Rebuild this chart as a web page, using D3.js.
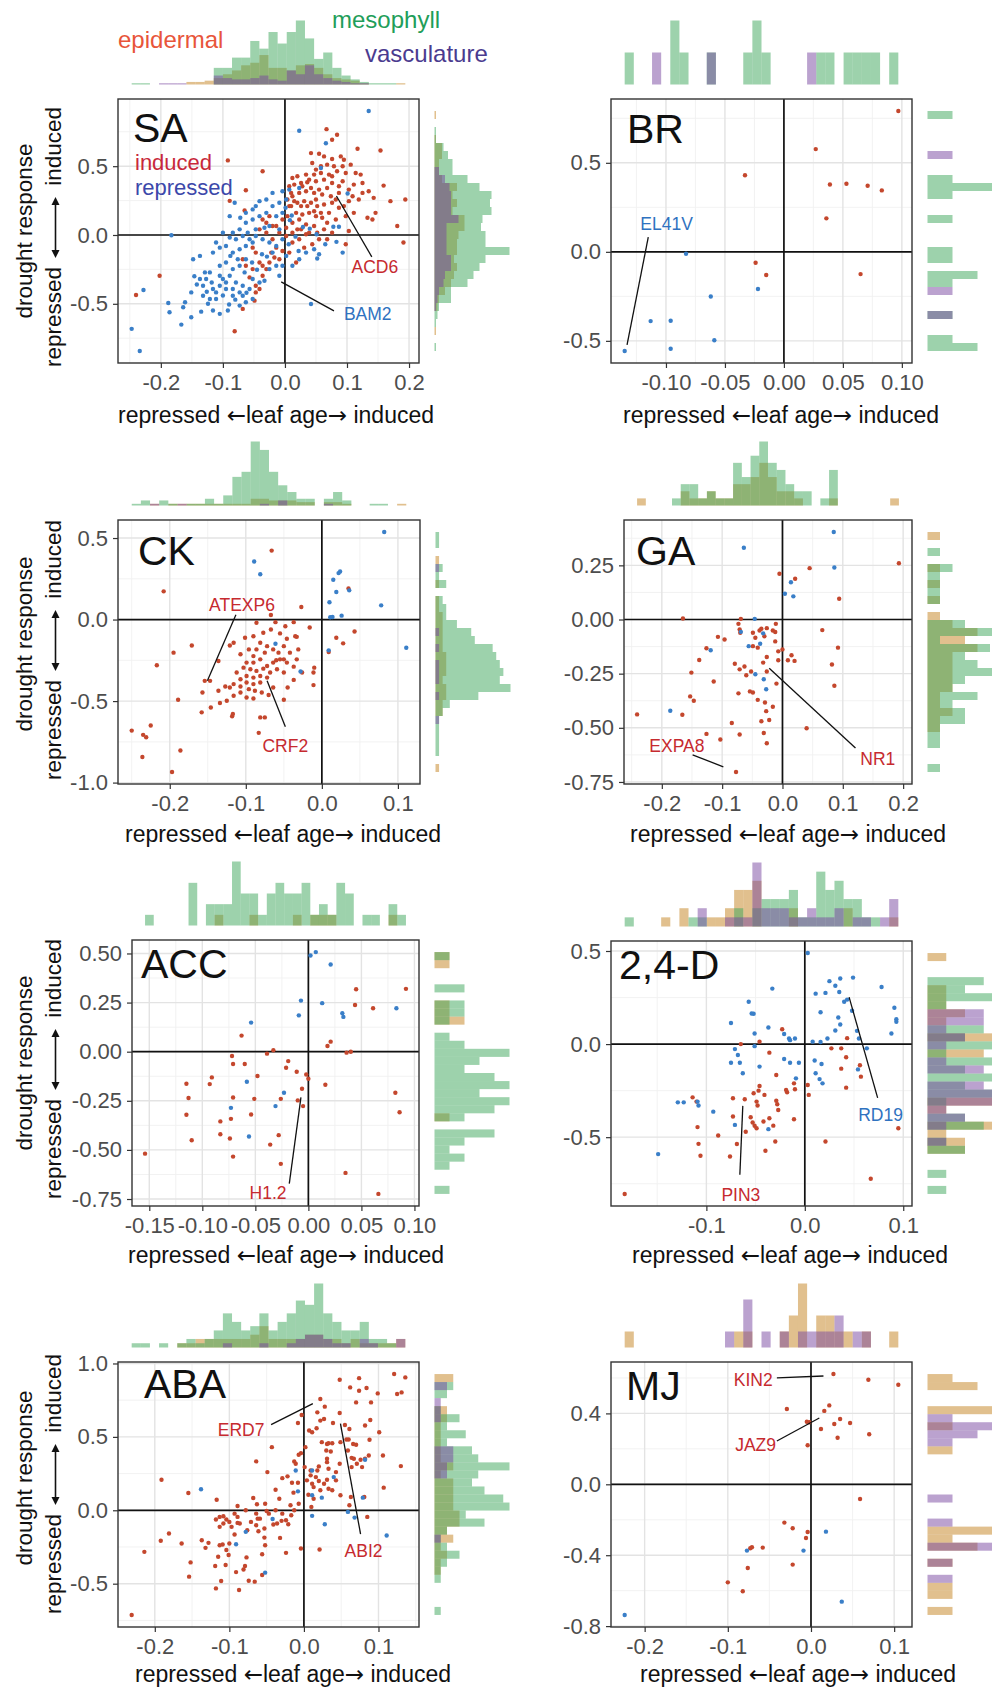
<!DOCTYPE html>
<html>
<head>
<meta charset="utf-8">
<script src="https://cdn.jsdelivr.net/npm/d3@7"></script>
<style>
  body { margin: 0; background: #fff; }
  svg text { font-family: "Liberation Sans", Arial, Helvetica, sans-serif; }
</style>
</head>
<body>
<svg id="fig" width="992" height="1688"></svg>
<script>
// ---- scatter data: [leaf age, drought response] per gene ----
const saInduced = [[-0.092,0.542],[-0.036,0.463],[-0.063,0.325],[-0.089,0.248],[-0.065,0.178],[-0.202,-0.296],[-0.240,-0.436],[-0.081,-0.699],[-0.068,-0.537],[-0.049,-0.477],[-0.047,-0.417],[-0.041,-0.393],
  [0.067,0.769],[0.084,0.728],[0.117,0.627],[0.154,0.614],[0.076,0.692],[0.042,0.595],[0.055,0.590],[0.063,0.571],[0.076,0.552],[0.090,0.571],[0.044,0.523],[0.058,0.499],[0.068,0.511],[0.079,0.499],[0.093,0.499],[0.106,0.511],[0.122,0.439],[0.114,0.451],[0.098,0.451],[0.084,0.463],[0.071,0.439],[0.058,0.451],[0.047,0.439],[0.034,0.439],[0.020,0.427],[0.012,0.414],[0.007,0.354],[0.015,0.366],[0.026,0.378],[0.036,0.383],[0.050,0.390],[0.063,0.402],[0.076,0.378],[0.087,0.354],[0.103,0.330],[0.093,0.390],[0.111,0.366],[0.135,0.318],[0.143,0.270],[0.159,0.359],[0.170,0.246],[0.194,0.258],[0.119,0.258],[0.103,0.246],[0.087,0.306],[0.074,0.282],[0.060,0.294],[0.047,0.306],[0.034,0.318],[0.023,0.306],[0.012,0.282],[0.004,0.258],[0.010,0.210],[0.020,0.234],[0.031,0.246],[0.042,0.234],[0.052,0.210],[0.063,0.222],[0.076,0.234],[0.087,0.198],[0.018,0.161],[0.028,0.149],[0.039,0.161],[0.050,0.137],[0.060,0.125],[0.023,0.113],[0.012,0.089],[0.034,0.077],[0.047,0.065],[0.004,0.137],[0.002,0.053],[0.020,0.041],[0.133,0.125],[0.141,0.113],[0.181,0.065],[0.191,-0.055],[0.098,-0.067],[0.076,0.017],[0.063,0.041],[0.055,-0.031],[0.044,-0.067],[0.031,-0.092],[0.023,-0.031],[0.012,-0.055],[0.007,-0.128],[0.018,-0.200],[0.034,0.005],[-0.025,0.137],[-0.036,0.113],[-0.041,0.041],[-0.030,0.017],[-0.020,-0.031],[-0.014,0.065],[-0.004,0.113],[-0.052,-0.092],[-0.047,-0.128],[-0.041,-0.200],[-0.052,-0.248],[-0.057,-0.308],[-0.047,-0.369],[-0.036,-0.296],[-0.030,-0.248],[-0.025,-0.200],[-0.017,-0.164],[-0.009,-0.176],[-0.004,-0.116],[-0.014,-0.092],[0.103,0.029],
  [0.028,0.354],[0.042,0.342],[0.055,0.330],[0.068,0.342],[0.082,0.258],[0.095,0.210],[0.109,0.282],[0.125,0.306],[0.071,0.161],[0.082,0.113],[0.068,0.089],[0.052,0.017],[0.039,0.017],[0.026,0.210],[0.015,0.246],[0.050,0.258],[0.036,0.210],[0.047,0.173],[0.058,0.161],[0.098,0.137],[0.111,0.161],[0.095,0.547],[0.050,0.475],[0.039,0.402],[0.007,0.210],[0.010,0.306],[0.076,0.427],[0.125,0.378],[0.146,0.161],[0.002,-0.007],[0.012,0.017],[0.026,0.041],[0.068,-0.031],[-0.020,0.065],[-0.030,0.089],[-0.009,0.017],[-0.063,-0.224],[-0.036,-0.224],[-0.068,-0.176],[-0.022,-0.128]];
const saRepressed = [[0.135,0.901],[0.023,0.757],[0.066,0.667],[0.058,0.487],[0.101,0.301],[0.087,0.060],[0.093,-0.128],[0.042,-0.501],[0.055,-0.140],[-0.183,-0.002],[-0.247,-0.682],[-0.234,-0.843],[-0.228,-0.400],[-0.188,-0.494],[-0.186,-0.561],[-0.167,-0.651],[-0.151,-0.598],[-0.135,-0.557],[-0.164,-0.525],[-0.151,-0.417],[-0.161,-0.489],[-0.148,-0.176],[-0.137,-0.152],[-0.129,-0.272],[-0.127,-0.320],[-0.116,-0.393],[-0.105,-0.369],[-0.095,-0.345],[-0.084,-0.393],[-0.073,-0.417],[-0.063,-0.489],[-0.052,-0.465],[-0.105,-0.573],[-0.116,-0.549],[-0.092,-0.549],[-0.073,-0.513],[-0.132,-0.441],[-0.121,-0.465],[-0.111,-0.417],[-0.100,-0.320],[-0.089,-0.296],[-0.079,-0.345],[-0.068,-0.369],[-0.057,-0.393],[-0.105,-0.224],[-0.095,-0.200],[-0.084,-0.248],[-0.073,-0.224],[-0.063,-0.176],[-0.116,-0.128],[-0.105,-0.092],[-0.095,-0.080],[-0.084,-0.128],[-0.073,-0.104],[-0.063,-0.080],[-0.052,-0.055],[-0.089,-0.019],[-0.079,-0.031],[-0.068,-0.007],[-0.057,-0.031],[-0.047,-0.007],[-0.036,-0.031],[-0.025,-0.055],[-0.014,-0.080],[-0.004,-0.031],[-0.084,0.017],[-0.073,0.041],[-0.060,0.017],[-0.047,0.041],[-0.033,0.053],[-0.025,0.065],[-0.009,0.041],[-0.063,0.089],[-0.052,0.113],[-0.041,0.137],[-0.030,0.161],[-0.020,0.210],[-0.009,0.234],[0.002,0.258],[-0.020,0.306],[-0.004,0.318],[0.007,0.330],[0.023,0.342],[-0.052,0.186],[-0.063,0.161],[-0.041,0.246],[-0.030,0.258],[-0.081,0.234],[-0.020,-0.128],[-0.014,-0.224],[-0.025,-0.248],[-0.033,-0.333],[-0.009,-0.296],[0.002,-0.152],[0.012,-0.224],[0.023,-0.176],[0.034,-0.128],[0.047,-0.104],[0.006,-0.067],[0.017,-0.012],[0.029,0.058],[0.022,-0.116],[0.051,0.005],[-0.004,-0.224],[-0.105,-0.296],[-0.121,-0.272],[-0.137,-0.320],[-0.132,-0.369],[-0.111,-0.465],[-0.095,-0.393],[-0.084,-0.441],[-0.068,-0.441],[-0.088,-0.152],[-0.076,-0.176],[-0.065,-0.272],[-0.052,-0.320],[-0.041,-0.345],[-0.029,-0.157],[-0.053,-0.200],[-0.045,-0.253],[-0.037,-0.140],[-0.126,-0.412],[-0.089,0.137],[-0.100,0.017],[-0.111,-0.055],[-0.072,0.125],[-0.047,0.210],[-0.014,0.137],[-0.004,0.161],[0.001,0.198],[0.011,0.142],[0.008,0.108],[0.040,0.046],[0.052,-0.171],[0.065,-0.067],[0.078,0.060],[0.083,-0.050],
  [-0.142,-0.360],[-0.118,-0.345],[-0.100,-0.440],[-0.080,-0.470],[-0.062,-0.420],[-0.146,-0.300],[-0.124,-0.500],[-0.090,-0.505]];

const brInduced = [[0.097,0.791],[0.027,0.577],[-0.033,0.430],[0.039,0.378],[0.053,0.382],[0.071,0.371],[0.083,0.345],[0.036,0.188],[-0.024,-0.061],[-0.015,-0.130],[0.065,-0.125]];
const brRepressed = [[-0.083,-0.011],[-0.022,-0.209],[-0.062,-0.251],[-0.113,-0.389],[-0.096,-0.387],[-0.059,-0.497],[-0.096,-0.544],[-0.135,-0.557]];

const ckInduced = [[-0.066,0.423],[-0.208,0.173],[-0.027,0.077],[-0.067,0.028],[0.035,0.191],[-0.086,-0.020],[-0.061,-0.016],[-0.048,-0.041],[-0.037,-0.016],[-0.016,-0.049],[-0.035,-0.102],[0.043,-0.073],[0.019,-0.112],[0.028,-0.146],[0.009,-0.199],[-0.171,-0.159],[-0.195,-0.203],[-0.217,-0.280],[-0.154,-0.376],[-0.147,-0.376],[-0.157,-0.447],[-0.146,-0.539],[-0.158,-0.569],[-0.189,-0.492],[-0.250,-0.681],[-0.235,-0.707],[-0.231,-0.722],[-0.225,-0.650],[-0.236,-0.843],[-0.186,-0.803],[-0.197,-0.935],[-0.083,-0.695],[-0.081,-0.600],[-0.075,-0.600],[-0.118,-0.593],[-0.117,-0.579],[-0.136,-0.437],[-0.134,-0.512],[-0.125,-0.498],[-0.116,-0.467],[-0.107,-0.447],[-0.099,-0.478],[-0.090,-0.484],[-0.079,-0.447],[-0.070,-0.463],[-0.064,-0.417],[-0.050,-0.492],[-0.045,-0.417],[-0.037,-0.370],[-0.011,-0.402],[-0.011,-0.325],[-0.010,-0.295],[-0.026,-0.325],[-0.037,-0.289],[-0.031,-0.183],[-0.033,-0.244],[-0.046,-0.264],[-0.050,-0.163],[-0.046,-0.118],[-0.055,-0.085],[-0.067,-0.061],[-0.077,-0.081],[-0.090,-0.102],[-0.101,-0.112],[-0.116,-0.142],[-0.121,-0.159],[-0.136,-0.254],[-0.081,-0.142],[-0.072,-0.163],[-0.064,-0.183],[-0.057,-0.203],[-0.090,-0.224],[-0.099,-0.264],[-0.090,-0.264],[-0.081,-0.244],[-0.072,-0.285],[-0.064,-0.264],[-0.055,-0.244],[-0.094,-0.305],[-0.086,-0.315],[-0.077,-0.301],[-0.068,-0.325],[-0.059,-0.305],[-0.050,-0.325],[-0.099,-0.346],[-0.090,-0.356],[-0.081,-0.346],[-0.072,-0.356],[-0.107,-0.366],[-0.099,-0.386],[-0.090,-0.396],[-0.081,-0.386],[-0.116,-0.396],[-0.107,-0.411],[-0.096,-0.427],[-0.088,-0.437],[-0.112,-0.325],[-0.103,-0.295],[-0.086,-0.183],[-0.096,-0.183],[-0.107,-0.213],[-0.075,-0.203],[-0.121,-0.417],[-0.127,-0.411],[-0.060,-0.250],[-0.050,-0.244],[-0.042,-0.203],[-0.033,-0.106]];
const ckRepressed = [[0.082,0.537],[-0.089,0.356],[-0.081,0.278],[0.024,0.295],[0.022,0.285],[0.015,0.244],[0.019,0.169],[0.036,0.179],[0.010,0.106],[0.078,0.087],[0.011,0.014],[0.014,0.016],[0.026,0.024],[-0.061,-0.148],[0.009,-0.189],[-0.028,-0.319],[0.111,-0.173]];

const gaInduced = [[0.193,0.260],[0.045,0.237],[0.021,0.188],[-0.005,0.211],[0.094,0.096],[-0.165,0.005],[0.066,-0.049],[0.092,-0.130],[0.082,-0.208],[0.086,-0.306],[0.040,-0.502],[-0.073,-0.020],[-0.069,0.003],[-0.071,-0.046],[-0.070,-0.061],[-0.049,-0.061],[-0.038,-0.051],[-0.035,-0.043],[-0.026,-0.040],[-0.016,-0.051],[-0.012,-0.058],[-0.011,-0.020],[-0.030,-0.077],[-0.012,-0.101],[-0.007,-0.147],[0.000,-0.138],[-0.007,-0.188],[0.009,-0.188],[0.015,-0.165],[0.020,-0.191],[-0.026,-0.173],[-0.032,-0.199],[-0.026,-0.240],[-0.049,-0.123],[-0.041,-0.130],[-0.107,-0.080],[-0.096,-0.092],[-0.126,-0.133],[-0.138,-0.187],[-0.151,-0.245],[-0.114,-0.286],[-0.079,-0.204],[-0.071,-0.230],[-0.063,-0.217],[-0.060,-0.257],[-0.052,-0.240],[-0.010,-0.296],[-0.073,-0.341],[-0.054,-0.332],[-0.049,-0.337],[-0.041,-0.371],[-0.029,-0.383],[-0.016,-0.403],[-0.027,-0.423],[-0.035,-0.470],[-0.022,-0.464],[-0.031,-0.524],[-0.026,-0.571],[-0.153,-0.355],[-0.147,-0.375],[-0.166,-0.440],[-0.241,-0.438],[-0.084,-0.478],[-0.071,-0.531],[-0.126,-0.528],[-0.103,-0.554],[-0.077,-0.704],[-0.045,-0.084]];
const gaRepressed = [[0.085,0.404],[-0.064,0.331],[0.086,0.240],[0.014,0.172],[0.004,0.119],[0.018,0.107],[-0.046,0.003],[-0.069,-0.057],[-0.032,-0.064],[-0.056,-0.123],[-0.037,-0.112],[-0.119,-0.142],[-0.045,-0.253],[-0.031,-0.276],[-0.027,-0.322],[-0.186,-0.421]];

const accInduced = [[-0.154,-0.519],[-0.115,-0.163],[-0.113,-0.236],[-0.115,-0.321],[-0.110,-0.451],[-0.091,-0.131],[-0.093,-0.165],[-0.083,-0.355],[-0.083,-0.420],[-0.072,-0.022],[-0.071,-0.063],[-0.071,-0.233],[-0.073,-0.342],[-0.074,-0.442],[-0.071,-0.534],[-0.063,0.082],[-0.060,-0.063],[-0.051,-0.240],[-0.054,-0.320],[-0.048,-0.124],[-0.039,-0.010],[-0.033,0.007],[-0.019,-0.048],[-0.021,-0.082],[-0.026,-0.240],[-0.028,-0.425],[-0.036,-0.473],[-0.026,-0.571],[-0.011,-0.102],[-0.010,-0.248],[-0.005,-0.277],[-0.006,-0.189],[-0.002,-0.116],[0.000,-0.138],[0.044,0.238],[0.045,0.318],[0.061,0.221],[0.092,0.320],[0.018,0.029],[0.021,0.051],[0.016,-0.168],[0.036,-0.005],[0.040,0.000],[0.035,-0.617],[0.066,-0.724],[0.082,-0.209],[0.086,-0.308]];
const accRepressed = [[0.002,0.490],[0.007,0.507],[0.021,0.444],[-0.007,0.260],[-0.009,0.185],[0.013,0.247],[0.032,0.196],[0.033,0.177],[0.083,0.221],[-0.054,0.148],[-0.058,-0.153],[-0.073,-0.286],[-0.056,-0.432],[-0.031,-0.277],[-0.023,-0.209]];

const d24Induced = [[-0.183,-0.805],[-0.114,-0.286],[-0.110,-0.309],[-0.109,-0.446],[-0.108,-0.536],[-0.106,-0.600],[-0.088,-0.491],[-0.076,-0.604],[-0.069,-0.537],[-0.073,-0.291],[-0.073,-0.389],[-0.061,-0.296],[-0.060,-0.471],[-0.065,0.000],[-0.055,-0.393],[-0.053,-0.421],[-0.051,-0.439],[-0.049,-0.452],[-0.052,-0.264],[-0.049,-0.309],[-0.048,-0.330],[-0.046,0.013],[-0.046,-0.225],[-0.047,-0.250],[-0.041,-0.273],[-0.042,-0.416],[-0.040,-0.573],[-0.036,-0.046],[-0.036,-0.398],[-0.032,-0.438],[-0.030,-0.523],[-0.029,-0.166],[-0.029,-0.304],[-0.028,-0.323],[-0.027,-0.354],[-0.023,0.080],[-0.018,-0.259],[-0.019,-0.246],[-0.011,-0.211],[-0.010,-0.243],[-0.011,-0.404],[0.003,-0.220],[0.004,-0.273],[0.021,-0.523],[0.027,-0.023],[0.037,-0.023],[0.042,-0.071],[0.043,0.032],[0.037,-0.132],[0.042,-0.234],[0.056,-0.114],[0.057,-0.175],[0.067,-0.723],[0.095,-0.452]];
const d24Repressed = [[0.003,0.489],[0.036,0.352],[0.049,0.357],[0.025,0.338],[0.031,0.313],[-0.033,0.298],[0.078,0.307],[0.011,0.271],[0.021,0.275],[0.035,0.280],[-0.057,0.227],[0.040,0.227],[0.043,0.239],[-0.054,0.164],[-0.052,0.163],[0.016,0.171],[0.048,0.179],[0.091,0.195],[0.093,0.134],[0.093,0.120],[0.034,0.143],[0.036,0.105],[-0.075,0.113],[-0.037,0.089],[0.031,0.073],[0.053,0.071],[0.088,0.057],[-0.051,0.057],[-0.021,0.054],[-0.016,0.030],[-0.015,0.021],[-0.010,0.030],[0.023,0.030],[0.008,0.013],[0.016,0.011],[0.055,0.030],[-0.051,-0.011],[0.063,-0.023],[-0.071,-0.027],[-0.068,-0.059],[-0.075,-0.100],[-0.066,-0.100],[-0.046,-0.121],[-0.021,-0.080],[-0.015,-0.100],[-0.006,-0.100],[0.010,-0.088],[0.017,-0.107],[0.011,-0.157],[0.015,-0.188],[0.018,-0.211],[0.054,-0.136],[-0.063,-0.157],[-0.009,-0.184],[-0.129,-0.313],[-0.123,-0.313],[-0.109,-0.309],[-0.108,-0.330],[-0.093,-0.363],[-0.071,-0.434],[-0.037,-0.457],[-0.149,-0.591]];

const abaInduced = [[-0.231,-0.713],[-0.214,-0.283],[-0.191,0.208],[-0.192,-0.208],[-0.181,-0.158],[-0.164,-0.226],[-0.155,0.118],[-0.152,-0.355],[-0.154,-0.452],[-0.137,-0.204],[-0.132,-0.256],[-0.128,-0.222],[-0.117,0.072],[-0.118,-0.063],[-0.113,-0.045],[-0.108,-0.041],[-0.104,-0.063],[-0.100,-0.079],[-0.097,-0.113],[-0.089,-0.086],[-0.086,-0.090],[-0.113,-0.113],[-0.108,-0.090],[-0.109,-0.233],[-0.104,-0.271],[-0.113,-0.238],[-0.101,-0.305],[-0.105,-0.373],[-0.115,-0.317],[-0.119,-0.380],[-0.111,-0.482],[-0.118,-0.532],[-0.100,-0.226],[-0.093,-0.165],[-0.091,-0.421],[-0.087,-0.543],[-0.089,0.029],[-0.077,-0.321],[-0.079,-0.380],[-0.081,-0.403],[-0.074,-0.480],[-0.066,-0.486],[-0.068,0.084],[-0.063,0.041],[-0.064,0.333],[-0.062,-0.057],[-0.059,-0.057],[-0.061,-0.143],[-0.053,-0.124],[-0.053,-0.186],[-0.052,-0.238],[-0.056,-0.299],[-0.056,-0.441],[-0.052,0.045],[-0.049,0.260],[-0.050,-0.005],[-0.043,0.430],[-0.038,0.140],[-0.033,0.079],[-0.032,-0.188],[-0.041,-0.097],[-0.036,-0.090],[-0.030,-0.072],[-0.024,-0.290],[-0.029,0.219],[-0.024,-0.068],[-0.021,-0.095],[-0.017,-0.034],[-0.018,0.034],[-0.022,0.231],[-0.016,0.188],[-0.013,0.333],[-0.011,0.317],[-0.014,0.120],[-0.008,0.188],[-0.007,0.378],[-0.004,0.389],[-0.004,-0.260],[-0.003,0.649],[-0.008,0.595],[0.002,0.430],[0.001,0.294],[0.004,0.204],[0.006,0.106],[0.009,0.271],[0.009,0.238],[0.011,0.181],[0.013,0.158],[0.013,0.079],[0.010,0.023],[0.016,0.226],[0.018,0.271],[0.020,0.299],[0.020,0.199],[0.022,0.136],[0.022,0.758],[0.028,0.706],[0.018,0.667],[0.007,0.543],[0.011,0.532],[0.017,0.559],[0.022,0.611],[0.027,0.622],[0.024,0.464],[0.031,0.452],[0.030,0.407],[0.033,0.457],[0.031,0.351],[0.031,0.328],[0.033,0.283],[0.031,0.208],[0.027,0.181],[0.033,0.147],[0.036,0.400],[0.038,0.457],[0.043,0.260],[0.043,0.204],[0.038,0.136],[0.039,0.595],[0.048,0.889],[0.048,0.663],[0.049,0.464],[0.048,0.317],[0.049,0.102],[0.055,0.581],[0.057,0.482],[0.060,0.482],[0.059,0.407],[0.062,0.837],[0.061,0.554],[0.064,0.357],[0.064,0.294],[0.066,0.452],[0.067,0.351],[0.070,0.446],[0.070,0.735],[0.074,0.900],[0.074,0.814],[0.076,0.344],[0.078,0.294],[0.071,0.317],[0.082,0.351],[0.081,0.090],[0.082,0.577],[0.084,0.833],[0.087,0.373],[0.088,0.480],[0.089,0.615],[0.090,0.735],[0.085,-0.045],[0.099,0.796],[0.101,0.532],[0.106,0.373],[0.107,0.154],[0.061,0.034],[0.063,0.090],[0.121,0.928],[0.125,0.792],[0.131,0.803],[0.136,0.905],[0.130,0.301],[0.021,-0.267],[-0.047,-0.023],[-0.038,0.000],[-0.029,-0.023],[-0.064,-0.023],[-0.078,0.000],[-0.071,-0.079],[-0.076,-0.136],[-0.064,-0.102],[-0.089,-0.045],[-0.093,-0.023],[-0.013,0.000],[-0.007,0.045]];
const abaRepressed = [[-0.138,0.143],[-0.078,-0.147],[-0.091,-0.231],[-0.052,-0.425],[-0.042,-0.059],[-0.011,0.271],[-0.008,0.129],[0.011,0.271],[0.011,0.102],[0.024,0.086],[0.011,-0.038],[0.028,-0.095],[0.040,0.226],[0.059,-0.011],[0.068,-0.050],[0.082,0.344],[0.079,0.086],[0.111,-0.172]];

const mjInduced = [[0.027,0.622],[0.069,0.590],[0.105,0.562],[-0.029,0.425],[0.022,0.445],[0.016,0.414],[-0.005,0.353],[-0.002,0.350],[0.012,0.312],[0.028,0.340],[0.035,0.368],[0.047,0.346],[0.032,0.263],[0.070,0.282],[-0.004,0.220],[0.059,-0.083],[-0.032,-0.216],[-0.022,-0.248],[-0.004,-0.269],[-0.006,-0.303],[-0.073,-0.361],[-0.071,-0.355],[-0.058,-0.357],[-0.076,-0.472],[-0.022,-0.453],[-0.100,-0.553],[-0.082,-0.603]];
const mjRepressed = [[0.018,-0.267],[-0.077,-0.374],[-0.009,-0.374],[0.037,-0.662],[-0.224,-0.737]];

// ---- marginal histograms: 30 equal bins over the data range, counts [epidermal, mesophyll, vasculature]
// top = leaf age bins from low to high, right = drought response bins from low to high
const saTop = [[0,1,0],[0,1,0],[0,0,0],[0,0,1],[0,0,1],[0,0,1],[2,0,0],[2,0,0],[3,0,0],[5,13,7],[8,13,5],[11,21,4],[15,21,4],[17,34,5],[23,28,7],[13,41,4],[13,32,3],[11,41,11],[15,50,8],[16,36,15],[13,20,8],[8,25,5],[5,13,3],[4,7,2],[3,4,1],[1,2,1],[0,1,0],[0,1,0],[0,1,0],[1,0,0]];
const saRight = [[0,1,0],[0,0,0],[1,0,0],[0,1,0],[0,2,0],[2,3,1],[3,11,2],[7,11,3],[11,22,6],[13,26,7],[15,30,11],[13,34,11],[15,50,8],[15,34,8],[16,34,8],[20,31,8],[20,32,16],[12,38,11],[15,37,11],[12,38,11],[15,30,10],[5,22,7],[3,12,3],[3,12,0],[5,9,0],[5,6,0],[1,1,0],[0,1,0],[0,0,0],[1,0,0]];
const brTop = [[0,1,0],[0,0,0],[0,0,0],[0,0,1],[0,0,0],[0,2,0],[0,1,0],[0,0,0],[0,0,0],[0,1,1],[0,0,0],[0,0,0],[0,0,0],[0,1,0],[0,2,0],[0,1,0],[0,0,0],[0,0,0],[0,0,0],[0,0,0],[0,0,1],[0,1,0],[0,1,0],[0,0,0],[0,1,0],[0,1,0],[0,1,0],[0,1,0],[0,0,0],[0,1,0]];
const brRight = [[0,2,0],[0,1,0],[0,0,0],[0,0,0],[0,1,1],[0,0,0],[0,0,0],[0,0,1],[0,1,0],[0,2,0],[0,0,0],[0,1,0],[0,1,0],[0,0,0],[0,0,0],[0,0,0],[0,1,0],[0,0,0],[0,0,0],[0,1,0],[0,3,0],[0,1,0],[0,0,0],[0,0,0],[0,0,1],[0,0,0],[0,0,0],[0,0,0],[0,0,0],[0,1,0]];
const ckTop = [[0,1,0],[0,3,0],[1,0,1],[0,3,0],[1,1,0],[1,0,1],[1,1,0],[1,1,0],[1,4,0],[1,1,0],[1,6,0],[1,17,0],[1,20,0],[4,38,0],[4,33,1],[3,20,0],[3,12,3],[3,8,0],[2,4,0],[2,4,0],[0,0,0],[2,4,1],[2,8,0],[1,3,0],[0,0,0],[0,0,0],[0,1,0],[0,1,0],[0,0,0],[1,0,0]];
const ckRight = [[1,0,0],[0,0,0],[0,1,0],[0,1,0],[0,1,0],[0,1,0],[0,1,1],[2,2,0],[2,4,0],[3,12,1],[3,21,0],[2,18,1],[3,19,1],[3,18,1],[3,17,0],[2,16,1],[2,11,0],[2,10,1],[2,6,0],[2,3,0],[1,3,0],[1,2,0],[0,0,0],[1,3,0],[0,1,0],[0,2,1],[1,0,0],[0,0,0],[0,1,0],[0,1,0]];
const gaTop = [[1,0,0],[0,0,0],[0,0,0],[0,0,0],[0,1,0],[2,3,0],[1,3,0],[1,1,0],[2,2,0],[1,1,0],[1,1,0],[3,6,0],[3,4,0],[4,7,0],[6,9,0],[4,6,0],[2,5,0],[2,3,0],[1,2,0],[0,2,0],[0,0,0],[0,1,0],[1,5,0],[0,0,0],[0,0,0],[0,0,0],[0,0,0],[0,0,0],[0,0,0],[1,0,0]];
const gaRight = [[0,1,0],[0,0,0],[0,0,0],[0,1,0],[0,1,0],[1,1,0],[1,3,0],[2,3,0],[1,2,0],[1,4,0],[2,2,0],[2,3,0],[2,6,0],[2,4,0],[2,3,0],[4,5,0],[3,1,0],[4,6,0],[2,3,0],[1,0,0],[0,0,0],[1,1,0],[0,1,0],[1,1,0],[0,1,0],[1,2,0],[0,0,0],[0,1,0],[0,0,0],[1,0,0]];
const accTop = [[0,1,0],[0,0,0],[0,0,0],[0,0,0],[0,0,0],[0,4,0],[0,0,0],[0,2,0],[1,2,0],[0,2,0],[0,6,0],[0,3,0],[1,3,0],[0,1,0],[0,3,0],[0,4,0],[0,3,0],[1,3,0],[0,4,0],[1,1,0],[1,2,0],[1,1,0],[0,4,0],[0,3,0],[0,0,0],[0,1,0],[0,1,0],[0,0,0],[1,2,0],[0,1,0]];
const accRight = [[0,1,0],[0,0,0],[0,0,0],[0,1,0],[0,2,0],[0,1,0],[0,2,0],[0,4,0],[0,0,0],[1,2,0],[0,4,0],[0,5,0],[0,3,0],[0,5,0],[0,4,0],[0,2,0],[0,3,0],[0,5,0],[0,2,0],[0,1,0],[0,0,0],[2,1,0],[1,2,0],[1,2,0],[0,0,0],[0,2,0],[0,0,0],[0,0,0],[1,0,0],[1,1,0]];
const d24Top = [[0,1,0],[0,0,0],[0,0,0],[0,0,0],[1,0,0],[0,0,0],[2,0,0],[0,1,0],[0,1,2],[1,0,0],[1,0,0],[2,0,1],[4,2,1],[4,0,1],[5,2,7],[0,3,2],[0,3,2],[0,3,2],[2,4,1],[0,1,1],[0,1,2],[0,6,1],[0,4,1],[0,5,2],[2,3,0],[0,3,1],[0,1,1],[0,1,0],[0,0,1],[1,0,3]];
const d24Right = [[0,1,0],[0,0,0],[0,1,0],[0,0,0],[0,0,0],[2,2,0],[2,1,1],[1,0,0],[4,3,1],[0,2,2],[1,0,1],[4,1,4],[0,4,4],[0,2,3],[0,4,0],[0,2,3],[0,4,1],[3,1,0],[0,4,1],[4,2,2],[0,3,1],[1,0,3],[2,0,3],[1,1,0],[1,4,0],[1,2,0],[0,3,0],[0,0,0],[0,0,0],[1,0,0]];
const abaTop = [[0,1,0],[0,1,0],[0,0,0],[0,1,0],[0,0,0],[1,1,0],[1,2,0],[2,1,0],[2,2,0],[2,4,0],[2,8,1],[2,6,0],[2,4,0],[3,5,0],[5,8,1],[2,4,0],[2,6,0],[2,8,1],[2,11,2],[3,10,3],[3,15,3],[2,8,2],[2,6,1],[1,4,1],[2,4,0],[1,6,2],[1,2,1],[1,2,0],[1,1,0],[2,0,2]];
const abaRight = [[0,1,0],[0,0,0],[0,0,0],[0,0,0],[0,1,0],[1,1,0],[1,2,0],[2,4,0],[1,2,0],[3,1,1],[2,2,0],[4,8,0],[4,5,0],[3,12,0],[3,11,0],[3,8,0],[3,6,0],[1,7,2],[3,12,2],[1,7,3],[1,6,3],[1,2,0],[1,5,0],[1,2,0],[2,4,1],[2,1,1],[0,0,1],[0,2,0],[0,3,2],[3,0,0]];
const mjTop = [[1,0,0],[0,0,0],[0,0,0],[0,0,0],[0,0,0],[0,0,0],[0,0,0],[0,0,0],[0,0,0],[0,0,0],[0,0,0],[0,0,1],[1,0,0],[1,0,3],[0,0,0],[0,0,1],[0,0,0],[1,0,1],[2,0,0],[4,0,1],[0,0,1],[2,0,1],[2,0,1],[1,0,2],[1,0,0],[0,0,1],[1,0,1],[0,0,0],[0,0,0],[1,0,0]];
const mjRight = [[1,0,0],[0,0,0],[1,0,0],[1,0,0],[0,0,1],[0,0,0],[1,0,1],[0,0,0],[2,0,3],[1,0,0],[3,0,0],[0,0,1],[0,0,0],[0,0,0],[0,0,1],[0,0,0],[0,0,0],[0,0,0],[0,0,0],[0,0,0],[1,0,0],[0,0,1],[0,0,2],[1,0,3],[0,0,1],[3,0,0],[0,0,0],[0,0,0],[2,0,0],[1,0,0]];

// ---- labelled genes: segment from near the point (x1,y1) to near the text (x2,y2), text at (tx,ty), in data units
const saLabels = [
  { gene: "ACD6", kind: "induced", x1: 0.083, y1: 0.283, x2: 0.140, y2: -0.159, tx: 0.145, ty: -0.275, anchor: "middle" },
  { gene: "BAM2", kind: "repressed", x1: -0.006, y1: -0.341, x2: 0.079, y2: -0.551, tx: 0.095, ty: -0.616, anchor: "start" }];
const brLabels = [
  { gene: "EL41V", kind: "repressed", x1: -0.133, y1: -0.523, x2: -0.115, y2: 0.082, tx: -0.0995, ty: 0.123, anchor: "middle" }];
const ckLabels = [
  { gene: "ATEXP6", kind: "induced", x1: -0.1505, y1: -0.376, x2: -0.113, y2: 0.030, tx: -0.105, ty: 0.055, anchor: "middle" },
  { gene: "CRF2", kind: "induced", x1: -0.072, y1: -0.376, x2: -0.048, y2: -0.657, tx: -0.048, ty: -0.811, anchor: "middle" }];
const gaLabels = [
  { gene: "EXPA8", kind: "induced", x1: -0.098, y1: -0.680, x2: -0.149, y2: -0.625, tx: -0.175, ty: -0.611, anchor: "middle" },
  { gene: "NR1", kind: "induced", x1: -0.022, y1: -0.225, x2: 0.121, y2: -0.593, tx: 0.158, ty: -0.671, anchor: "middle" }];
const accLabels = [
  { gene: "H1.2", kind: "induced", x1: -0.007, y1: -0.233, x2: -0.018, y2: -0.672, tx: -0.038, ty: -0.748, anchor: "middle" }];
const d24Labels = [
  { gene: "PIN3", kind: "induced", x1: -0.063, y1: -0.332, x2: -0.066, y2: -0.702, tx: -0.065, ty: -0.841, anchor: "middle" },
  { gene: "RD19", kind: "repressed", x1: 0.045, y1: 0.252, x2: 0.074, y2: -0.289, tx: 0.077, ty: -0.412, anchor: "middle" }];
const abaLabels = [
  { gene: "ERD7", kind: "induced", x1: 0.012, y1: 0.726, x2: -0.044, y2: 0.584, tx: -0.053, ty: 0.509, anchor: "end" },
  { gene: "ABI2", kind: "induced", x1: 0.049, y1: 0.591, x2: 0.076, y2: -0.163, tx: 0.080, ty: -0.319, anchor: "middle" }];
const mjLabels = [
  { gene: "KIN2", kind: "induced", x1: 0.015, y1: 0.611, x2: -0.041, y2: 0.600, tx: -0.046, ty: 0.554, anchor: "end" },
  { gene: "JAZ9", kind: "induced", x1: 0.010, y1: 0.374, x2: -0.041, y2: 0.244, tx: -0.042, ty: 0.188, anchor: "end" }];

// tick labels of each panel
const saXTicks = [-0.2, -0.1, 0, 0.1, 0.2], saYTicks = [-0.5, 0, 0.5];
const brXTicks = [-0.1, -0.05, 0, 0.05, 0.1], brYTicks = [-0.5, 0, 0.5];
const ckXTicks = [-0.2, -0.1, 0, 0.1], ckYTicks = [-1, -0.5, 0, 0.5];
const gaXTicks = [-0.2, -0.1, 0, 0.1, 0.2], gaYTicks = [-0.75, -0.5, -0.25, 0, 0.25];
const accXTicks = [-0.15, -0.1, -0.05, 0, 0.05, 0.1], accYTicks = [-0.75, -0.5, -0.25, 0, 0.25, 0.5];
const d24XTicks = [-0.1, 0, 0.1], d24YTicks = [-0.5, 0, 0.5];
const abaXTicks = [-0.2, -0.1, 0, 0.1], abaYTicks = [-0.5, 0, 0.5, 1];
const mjXTicks = [-0.2, -0.1, 0, 0.1], mjYTicks = [-0.8, -0.4, 0, 0.4];

const tissues = ["epidermal", "mesophyll", "vasculature"];

// ---- layout ----
const panels = [
  { name: "SA", induced: saInduced, repressed: saRepressed, top: saTop, right: saRight, labels: saLabels,
    xTicks: saXTicks, yTicks: saYTicks, xDec: 1, yDec: 1, box: [118, 99, 419, 363], tag: [133, 142], titleX: 276, titleY: 423, yTitle: 237, key: true },
  { name: "BR", induced: brInduced, repressed: brRepressed, top: brTop, right: brRight, labels: brLabels,
    xTicks: brXTicks, yTicks: brYTicks, xDec: 2, yDec: 1, box: [611, 99, 912, 363], tag: [627, 143], titleX: 781, titleY: 423 },
  { name: "CK", induced: ckInduced, repressed: ckRepressed, top: ckTop, right: ckRight, labels: ckLabels,
    xTicks: ckXTicks, yTicks: ckYTicks, xDec: 1, yDec: 1, box: [118, 520, 420, 784], tag: [138, 565], titleX: 283, titleY: 842, yTitle: 650 },
  { name: "GA", induced: gaInduced, repressed: gaRepressed, top: gaTop, right: gaRight, labels: gaLabels,
    xTicks: gaXTicks, yTicks: gaYTicks, xDec: 1, yDec: 2, box: [624, 520, 912, 784], tag: [636, 565], titleX: 788, titleY: 842 },
  { name: "ACC", induced: accInduced, repressed: accRepressed, top: accTop, right: accRight, labels: accLabels,
    xTicks: accXTicks, yTicks: accYTicks, xDec: 2, yDec: 2, box: [132, 940, 419, 1206], tag: [141, 978], titleX: 286, titleY: 1263, yTitle: 1069 },
  { name: "2,4-D", induced: d24Induced, repressed: d24Repressed, top: d24Top, right: d24Right, labels: d24Labels,
    xTicks: d24XTicks, yTicks: d24YTicks, xDec: 1, yDec: 1, box: [611, 941, 912, 1206], tag: [619, 979], titleX: 790, titleY: 1263 },
  { name: "ABA", induced: abaInduced, repressed: abaRepressed, top: abaTop, right: abaRight, labels: abaLabels,
    xTicks: abaXTicks, yTicks: abaYTicks, xDec: 1, yDec: 1, box: [118, 1362, 419, 1627], tag: [144, 1398], titleX: 293, titleY: 1682, yTitle: 1484 },
  { name: "MJ", induced: mjInduced, repressed: mjRepressed, top: mjTop, right: mjRight, labels: mjLabels,
    xTicks: mjXTicks, yTicks: mjYTicks, xDec: 1, yDec: 1, box: [611, 1362, 912, 1627], tag: [626, 1400], titleX: 798, titleY: 1682 }
];

const tissueFill = ["rgb(195,130,30)", "rgb(60,165,90)", "rgb(120,70,160)"];
const tissueText = ["#e8553a", "#1f9e5a", "#4b3b8f"];
const pointColor = { induced: "#c4472d", repressed: "#3a7fc8" };
const labelColor = { induced: "#c62a2f", repressed: "#2f72c0" };

const locale = d3.formatLocale({ decimal: ".", thousands: ",", grouping: [3], currency: ["", ""], minus: "-" });

const svg = d3.select("#fig");

// Legend of tissues, above the first panel
svg.append("g").selectAll("text")
  .data(tissues)
  .join("text")
  .attr("x", (d, i) => [118, 332, 365][i])
  .attr("y", (d, i) => [48, 28, 62][i])
  .attr("font-size", 24)
  .attr("fill", (d, i) => tissueText[i])
  .text(d => d);

panels.forEach(drawPanel);

function minorBreaks(ticks, domain) {
  const step = ticks[1] - ticks[0];
  return d3.range(-4, ticks.length + 4)
    .map(k => ticks[0] + (k - 0.5) * step)
    .filter(v => v > domain[0] && v < domain[1]);
}

function drawPanel(p) {
  const [L, T, R, B] = p.box;
  const all = p.induced.concat(p.repressed);
  const xExt = d3.extent(all, d => d[0]);
  const yExt = d3.extent(all, d => d[1]);
  const xr = xExt[1] - xExt[0], yr = yExt[1] - yExt[0];

  const x = d3.scaleLinear().domain([xExt[0] - 0.05 * xr, xExt[1] + 0.05 * xr]).range([L, R]);
  const y = d3.scaleLinear().domain([yExt[0] - 0.05 * yr, yExt[1] + 0.05 * yr]).range([B, T]);

  const g = svg.append("g");

  // Grid: minor then major
  const grid = g.append("g");
  grid.selectAll(".mx").data(minorBreaks(p.xTicks, x.domain())).join("line")
    .attr("x1", d => x(d)).attr("x2", d => x(d)).attr("y1", T).attr("y2", B)
    .attr("stroke", "#f0f0f0").attr("stroke-width", 0.9);
  grid.selectAll(".my").data(minorBreaks(p.yTicks, y.domain())).join("line")
    .attr("y1", d => y(d)).attr("y2", d => y(d)).attr("x1", L).attr("x2", R)
    .attr("stroke", "#f0f0f0").attr("stroke-width", 0.9);
  grid.selectAll(".Mx").data(p.xTicks).join("line")
    .attr("x1", d => x(d)).attr("x2", d => x(d)).attr("y1", T).attr("y2", B)
    .attr("stroke", "#e3e3e3").attr("stroke-width", 1.4);
  grid.selectAll(".My").data(p.yTicks).join("line")
    .attr("y1", d => y(d)).attr("y2", d => y(d)).attr("x1", L).attr("x2", R)
    .attr("stroke", "#e3e3e3").attr("stroke-width", 1.4);

  // Zero lines
  g.append("line").attr("x1", x(0)).attr("x2", x(0)).attr("y1", T).attr("y2", B)
    .attr("stroke", "#111").attr("stroke-width", 1.7);
  g.append("line").attr("x1", L).attr("x2", R).attr("y1", y(0)).attr("y2", y(0))
    .attr("stroke", "#111").attr("stroke-width", 1.7);

  // Points
  const dots = p.induced.map(d => ({ d, k: "induced" })).concat(p.repressed.map(d => ({ d, k: "repressed" })));
  g.append("g").selectAll("circle")
    .data(dots)
    .join("circle")
    .attr("cx", e => x(e.d[0]))
    .attr("cy", e => y(e.d[1]))
    .attr("r", 2.2)
    .attr("fill", e => pointColor[e.k]);

  // Gene labels
  g.append("g").selectAll("line")
    .data(p.labels)
    .join("line")
    .attr("x1", d => x(d.x1)).attr("y1", d => y(d.y1))
    .attr("x2", d => x(d.x2)).attr("y2", d => y(d.y2))
    .attr("stroke", "#111").attr("stroke-width", 1.3);
  g.append("g").selectAll("text")
    .data(p.labels)
    .join("text")
    .attr("x", d => x(d.tx)).attr("y", d => y(d.ty))
    .attr("text-anchor", d => d.anchor)
    .attr("font-size", 17.5)
    .attr("fill", d => labelColor[d.kind])
    .text(d => d.gene);

  // Panel name
  g.append("text").attr("x", p.tag[0]).attr("y", p.tag[1])
    .attr("font-size", 41).attr("fill", "#111").text(p.name);

  if (p.key) {
    g.append("text").attr("x", L + 17).attr("y", T + 71).attr("font-size", 22)
      .attr("fill", "#c8283a").text("induced");
    g.append("text").attr("x", L + 17).attr("y", T + 96).attr("font-size", 22)
      .attr("fill", "#3c48aa").text("repressed");
  }

  // Border
  g.append("rect").attr("x", L).attr("y", T).attr("width", R - L).attr("height", B - T)
    .attr("fill", "none").attr("stroke", "#333").attr("stroke-width", 1.4);

  // Axes
  const xAxis = g.append("g").attr("transform", `translate(0,${B})`)
    .call(d3.axisBottom(x).tickValues(p.xTicks).tickFormat(locale.format(`.${p.xDec}f`))
      .tickSizeInner(5).tickSizeOuter(0).tickPadding(6.5));
  const yAxis = g.append("g").attr("transform", `translate(${L},0)`)
    .call(d3.axisLeft(y).tickValues(p.yTicks).tickFormat(locale.format(`.${p.yDec}f`))
      .tickSizeInner(5).tickSizeOuter(0).tickPadding(5));
  [xAxis, yAxis].forEach(a => {
    a.attr("color", "#333").attr("font-family", null).attr("font-size", null);
    a.select(".domain").remove();
    a.selectAll(".tick line").attr("stroke-width", 1.2);
    a.selectAll(".tick text").attr("font-size", 22).attr("fill", "#4d4d4d");
  });

  // Axis titles (arrows taken from DejaVu Sans, which draws them full size)
  const xt = g.append("text").attr("x", p.titleX).attr("y", p.titleY).attr("text-anchor", "middle")
    .attr("font-size", 23).attr("fill", "#111");
  xt.append("tspan").text("repressed ");
  xt.append("tspan").attr("font-family", "DejaVu Sans").text("\u2190");
  xt.append("tspan").text("leaf age");
  xt.append("tspan").attr("font-family", "DejaVu Sans").text("\u2192");
  xt.append("tspan").text(" induced");

  if (p.yTitle !== undefined) {
    const c = p.yTitle;
    g.append("text").attr("transform", `translate(31.5,${c - 6}) rotate(-90)`)
      .attr("text-anchor", "middle").attr("font-size", 22.5).attr("fill", "#111")
      .text("drought response");
    g.append("text").attr("transform", `translate(61,${c + 130}) rotate(-90)`)
      .attr("text-anchor", "start").attr("font-size", 22.5).attr("fill", "#111").text("repressed");
    g.append("text").attr("transform", `translate(61,${c - 130}) rotate(-90)`)
      .attr("text-anchor", "end").attr("font-size", 22.5).attr("fill", "#111").text("induced");
    const ax = 55.5, y0 = c + 21, y1 = c - 40;
    g.append("line").attr("x1", ax).attr("x2", ax).attr("y1", y0 - 6).attr("y2", y1 + 6)
      .attr("stroke", "#111").attr("stroke-width", 1.6);
    g.append("path").attr("d", `M${ax},${y1}l-4,8h8z M${ax},${y0}l-4,-8h8z`).attr("fill", "#111");
  }

  // Marginal histograms (tissues overlaid with transparency)
  const flat = (bins) => {
    const out = [];
    bins.forEach((c, i) => c.forEach((n, t) => { if (n) out.push({ i, t, n }); }));
    return out.sort((a, b) => a.t - b.t);
  };

  const xw = xr / p.top.length;
  const hTop = d3.scaleLinear().domain([0, d3.max(p.top.flat())]).range([0, 64]);
  const topBase = T - 14.5;
  g.append("g").selectAll("rect")
    .data(flat(p.top))
    .join("rect")
    .attr("x", d => x(xExt[0] + d.i * xw))
    .attr("width", d => x(xExt[0] + (d.i + 1) * xw) - x(xExt[0] + d.i * xw))
    .attr("y", d => topBase - hTop(d.n))
    .attr("height", d => hTop(d.n))
    .attr("fill", d => tissueFill[d.t])
    .attr("fill-opacity", 0.5);

  const yw = yr / p.right.length;
  const wRight = d3.scaleLinear().domain([0, d3.max(p.right.flat())]).range([0, 75]);
  const rightBase = R + 15.5;
  g.append("g").selectAll("rect")
    .data(flat(p.right))
    .join("rect")
    .attr("y", d => y(yExt[0] + (d.i + 1) * yw))
    .attr("height", d => y(yExt[0] + d.i * yw) - y(yExt[0] + (d.i + 1) * yw))
    .attr("x", rightBase)
    .attr("width", d => wRight(d.n))
    .attr("fill", d => tissueFill[d.t])
    .attr("fill-opacity", 0.5);
}
</script>
</body>
</html>
